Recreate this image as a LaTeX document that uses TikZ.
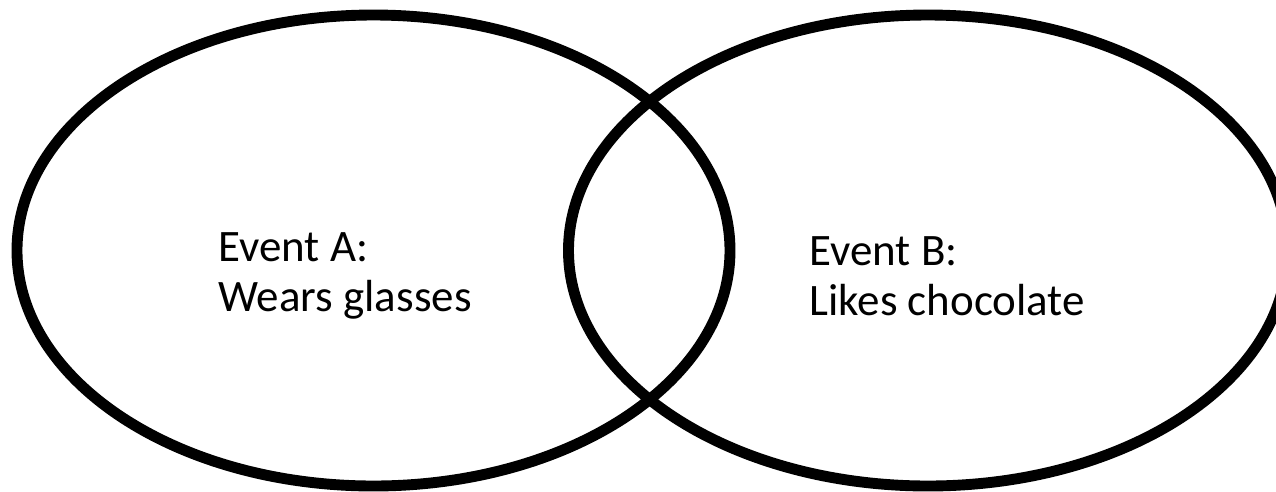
\documentclass[tikz,border=0pt]{standalone}
\usepackage{fontspec}
\setmainfont{Carlito}

\begin{document}
\begin{tikzpicture}[x=0.02cm,y=-0.02cm,line width=6.2pt,
  label/.style={anchor=base west,align=left,inner sep=0pt,
    font=\fontsize{25.6}{28}\selectfont}]
  \useasboundingbox (0,0) rectangle (1276,491);
  \coordinate (A) at (373.5,250.5);
  \coordinate (B) at (928,250.5);
  % --- event A ---
  \draw (A) ellipse [x radius=356.5,y radius=235.5];
  \node[label] (labelA) at (213,311) {Event A:\\Wears glasses};
  % --- event B ---
  \draw (B) ellipse [x radius=359.5,y radius=235.5];
  \node[label] (labelB) at (804,315) {Event B:\\Likes chocolate};
\end{tikzpicture}
\end{document}
